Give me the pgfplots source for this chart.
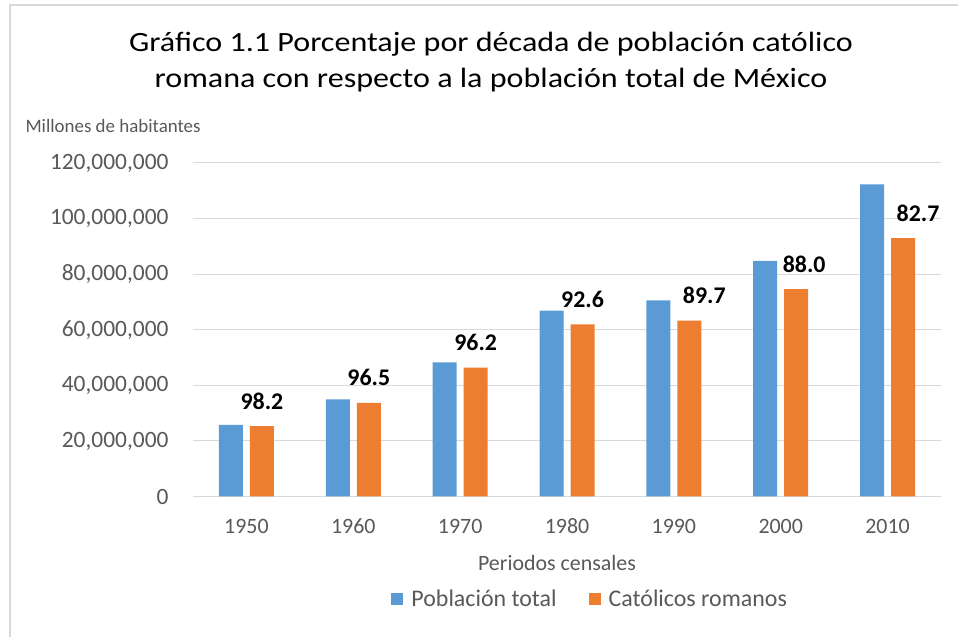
\documentclass[border=0pt]{standalone}
\usepackage{pgfplots}
\pgfplotsset{compat=1.18}
\usepackage{pgfplotstable}
\usepackage{fontspec}
\setmainfont{Carlito}
\newfontfamily\titulo[FakeStretch=1.15]{Carlito}
\definecolor{azul}{RGB}{91,155,213}
\definecolor{naranja}{RGB}{237,125,49}
\definecolor{gristxt}{RGB}{89,89,89}
\definecolor{grisgrid}{RGB}{217,217,217}

% poblacion total, catolicos romanos, porcentaje, desplazamiento de la etiqueta
\pgfplotstableread{
x pob cat lab dx
0 25791017 25329498 98.2 0
1 34923129 33692503 96.5 0
2 48225238 46380401 96.2 0
3 66846833 61916757 92.6 0
4 70562202 63285027 89.7 15
5 84794454 74612373 88.0 8
6 112336538 92924489 82.7 15
}\datos

\begin{document}
\begin{tikzpicture}
\useasboundingbox (0bp,0bp) rectangle (958bp,637bp);
\fill[white] (0bp,0bp) rectangle (958bp,637bp);
\draw[grisgrid, line width=2.5bp] (10bp,0bp) -- (10bp,632bp) -- (958bp,632bp);
\node[font=\titulo\fontsize{28}{28}\selectfont, text=black, anchor=base] at (491bp,585bp)
  {Gráfico 1.1 Porcentaje por década de población católico};
\node[font=\titulo\fontsize{28}{28}\selectfont, text=black, anchor=base] at (491bp,549bp)
  {romana con respecto a la población total de México};
\node[font=\fontsize{19}{19}\selectfont, text=gristxt, anchor=west] at (22bp,511bp) {Millones de habitantes};
\node[font=\fontsize{22}{22}\selectfont, text=gristxt] at (557bp,74bp) {Periodos censales};

\begin{axis}[
  at={(193bp,140.5bp)}, anchor=south west,
  scale only axis, width=748bp, height=333.5bp,
  ybar=7bp, bar width=24bp,
  ymin=0, ymax=120000000, xmin=-0.5, xmax=6.5,
  ytick={0,20000000,40000000,60000000,80000000,100000000,120000000},
  scaled y ticks=false,
  xtick=data, xticklabels={1950,1960,1970,1980,1990,2000,2010},
  axis line style={draw=none}, major tick length=0,
  ymajorgrids, grid style={grisgrid, line width=1bp},
  yticklabel style={font=\fontsize{23.5}{23.5}\selectfont, text=gristxt, xshift=-21bp,
    /pgf/number format/.cd, fixed, 1000 sep={,}, assume math mode=true},
  xticklabel style={font=\fontsize{22}{22}\selectfont, text=gristxt, yshift=-19bp},
  legend columns=2,
  legend style={draw=none, fill=none, font=\fontsize{24}{24}\selectfont, text=gristxt,
    at={(0.531,-0.307)}, anchor=center,
    /tikz/every odd column/.append style={column sep=6bp},
    /tikz/every even column/.append style={column sep=30bp}},
  legend image code/.code={\fill[#1] (0bp,-6bp) rectangle (12bp,6bp);},
]
\addplot[fill=azul, draw=none] table[x=x, y=pob] {\datos};
\addlegendentry{Población total}
\addplot[fill=naranja, draw=none,
  nodes near coords, point meta=explicit symbolic,
  visualization depends on={\thisrow{dx} \as \dx},
  every node near coord/.append style={font=\bfseries\fontsize{24}{24}\selectfont,
    text=black, anchor=center, yshift=25bp, xshift=\dx bp}]
  table[x=x, y=cat, meta=lab] {\datos};
\addlegendentry{Católicos romanos}
\end{axis}
\end{tikzpicture}
\end{document}
